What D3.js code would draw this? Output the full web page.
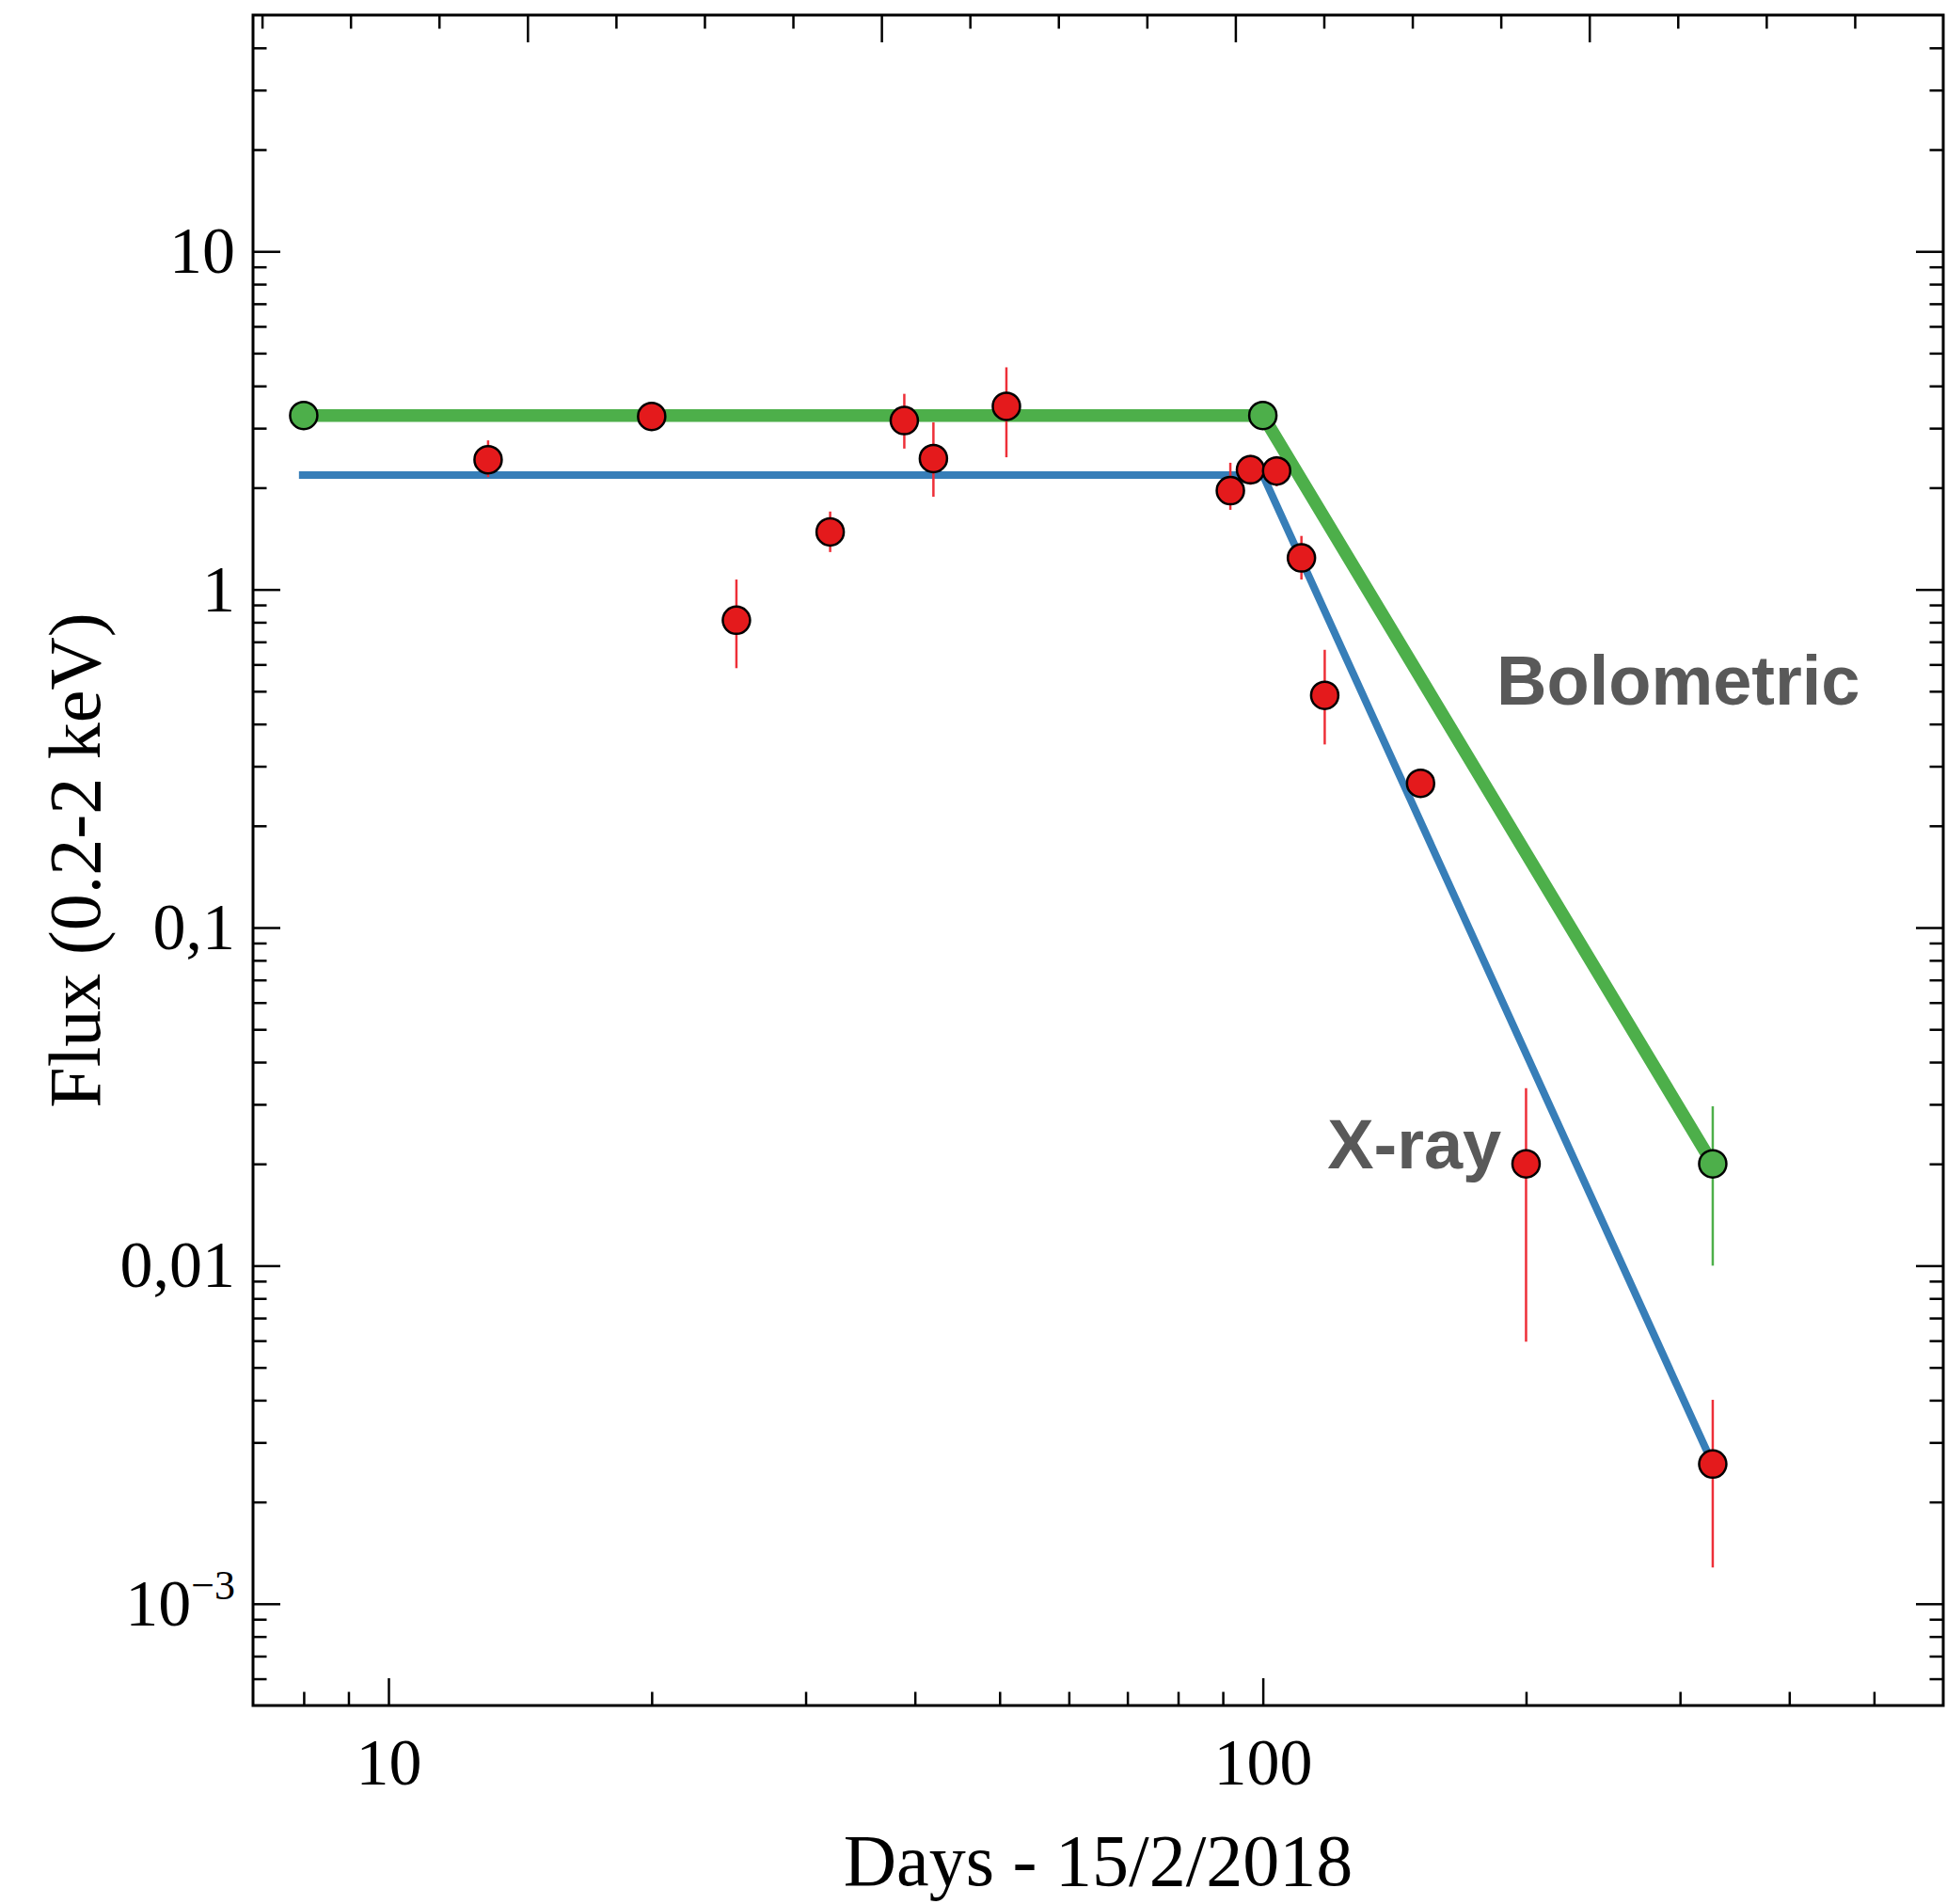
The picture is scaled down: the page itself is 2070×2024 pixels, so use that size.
<!DOCTYPE html>
<html>
<head>
<meta charset="utf-8">
<script src="https://cdn.jsdelivr.net/npm/d3@7"></script>
<style>
  html, body { margin: 0; padding: 0; background: #fff; }
</style>
</head>
<body>
<div id="chart"></div>
<script>
const [black, green, blue, red, errRed, gray] =
      ["#000000", "#4daf4a", "#377eb8", "#e41a1c", "#ee2f38", "#595959"];

// x-ray points (days, flux, upper, lower)
const xrayDays = [13, 20, 25, 32, 38.9, 42, 50.9, 91.8, 96.8, 103.7, 110.7, 117.7, 151.5, 200, 327];
const xrayFlux = [2.42, 3.25, 0.811, 1.48, 3.16, 2.44, 3.48, 1.96, 2.26, 2.24, 1.24, 0.486, 0.267, 0.020, 0.00259];
const xrayHi   = [2.76, 3.40, 1.07, 1.70, 3.79, 3.12, 4.54, 2.37, 2.50, 2.48, 1.44, 0.663, 0.285, 0.0335, 0.00401];
const xrayLo   = [2.15, 3.10, 0.585, 1.29, 2.61, 1.88, 2.46, 1.72, 2.04, 2.02, 1.07, 0.348, 0.250, 0.00596, 0.00128];

// bolometric points
const bolDays = [8, 100, 327];
const bolFlux = [3.27, 3.27, 0.020];
const bolHi   = [3.27, 3.27, 0.0296];
const bolLo   = [3.27, 3.27, 0.0100];

// broken power-law models
const bolModelDays  = [8, 100, 327];
const bolModelFlux  = [3.27, 3.27, 0.020];
const xrayModelDays = [7.9, 100, 327];
const xrayModelFlux = [2.18, 2.18, 0.00259];

const xMajor = [10, 100];
const xMajorLabels = ["10", "100"];
const yMajor = [10, 1, 0.1, 0.01, 0.001];
const yMajorLabels = ["10", "1", "0,1", "0,01", "10^\u22123"];

const labels = [
  {text: "Bolometric", days: 185, flux: 0.456},
  {text: "X-ray",      days: 118.5, flux: 0.01936}
];

const W = 2070, H = 2024;
const pLeft = 269, pRight = 2066, pTop = 16, pBottom = 1813;
const majorLen = 29, minorLen = 14.5;
const serif = "'Liberation Serif', 'Times New Roman', serif";
const sans = "'Liberation Sans', Arial, sans-serif";

const x = d3.scaleLog().domain([7, 600]).range([pLeft, pRight]);
const y = d3.scaleLog().domain([5e-4, 50]).range([pBottom, pTop]);
// plain linear scale along the top edge (unlabelled)
const xTop = d3.scaleLinear().domain([-4.7755, 0]).range([pLeft, pRight]);

function logMinors(lo, hi) {
  const out = [];
  for (let e = Math.floor(Math.log10(lo)); e <= Math.ceil(Math.log10(hi)); e++)
    for (let m = 2; m <= 9; m++) out.push(+(m * Math.pow(10, e)).toPrecision(6));
  return out.filter(v => v > lo && v < hi);
}

const svg = d3.select("#chart")
            .append("svg")
            .attr("width", W)
            .attr("height", H);

const tickStyle = g => {
  g.select(".domain").remove();
  g.selectAll("line").attr("stroke", black).attr("stroke-width", 2.5);
  g.selectAll("text").attr("font-family", serif).attr("font-size", 70).attr("fill", black);
}

// bottom
svg.append("g").attr("transform", `translate(0,${pBottom})`)
  .call(d3.axisBottom(x).tickValues(logMinors(7, 600)).tickSize(-minorLen).tickFormat(""))
  .call(tickStyle);
svg.append("g").attr("transform", `translate(0,${pBottom})`)
  .call(d3.axisBottom(x).tickValues(xMajor).tickSize(-majorLen).tickPadding(34)
        .tickFormat((d, i) => xMajorLabels[i]))
  .call(tickStyle);

// top
const topTicks = d3.range(-4.75, 0.001, 0.25);
svg.append("g").attr("transform", `translate(0,${pTop})`)
  .call(d3.axisTop(xTop).tickValues(topTicks.filter(v => v % 1 !== 0)).tickSize(-minorLen).tickFormat(""))
  .call(tickStyle);
svg.append("g").attr("transform", `translate(0,${pTop})`)
  .call(d3.axisTop(xTop).tickValues(topTicks.filter(v => v % 1 === 0 && v < 0)).tickSize(-majorLen).tickFormat(""))
  .call(tickStyle);

// left
svg.append("g").attr("transform", `translate(${pLeft},0)`)
  .call(d3.axisLeft(y).tickValues(logMinors(5e-4, 50)).tickSize(-minorLen).tickFormat(""))
  .call(tickStyle);
const yLab = svg.append("g").attr("transform", `translate(${pLeft},0)`)
  .call(d3.axisLeft(y).tickValues(yMajor).tickSize(-majorLen).tickPadding(19).tickFormat(""))
  .call(tickStyle);
yLab.selectAll(".tick text").each(function(d, i) {
  const t = d3.select(this);
  const [base, sup] = yMajorLabels[i].split("^");
  t.append("tspan").text(base);
  if (sup) {
    t.append("tspan").attr("font-size", 44).attr("dy", -28).text(sup);
  }
});

// right
svg.append("g").attr("transform", `translate(${pRight},0)`)
  .call(d3.axisRight(y).tickValues(logMinors(5e-4, 50)).tickSize(-minorLen).tickFormat(""))
  .call(tickStyle);
svg.append("g").attr("transform", `translate(${pRight},0)`)
  .call(d3.axisRight(y).tickValues(yMajor).tickSize(-majorLen).tickFormat(""))
  .call(tickStyle);

// frame
svg.append("rect")
  .attr("x", pLeft).attr("y", pTop)
  .attr("width", pRight - pLeft).attr("height", pBottom - pTop)
  .attr("fill", "none").attr("stroke", black).attr("stroke-width", 3);

// models
const line = d3.line().x(d => x(d[0])).y(d => y(d[1]));
svg.append("path")
  .datum(d3.zip(xrayModelDays, xrayModelFlux))
  .attr("d", line)
  .attr("fill", "none").attr("stroke", blue).attr("stroke-width", 8);
svg.append("path")
  .datum(d3.zip(bolModelDays, bolModelFlux))
  .attr("d", line)
  .attr("fill", "none").attr("stroke", green).attr("stroke-width", 13.5);

// error bars
const xrayPts = xrayDays.map((d, i) => ({d: d, f: xrayFlux[i], hi: xrayHi[i], lo: xrayLo[i]}));
const bolPts = bolDays.map((d, i) => ({d: d, f: bolFlux[i], hi: bolHi[i], lo: bolLo[i]}));

svg.selectAll(".err-bol")
  .data(bolPts.filter(p => p.hi !== p.lo))
  .enter().append("line")
  .attr("class", "err-bol")
  .attr("x1", p => x(p.d)).attr("x2", p => x(p.d))
  .attr("y1", p => y(p.hi)).attr("y2", p => y(p.lo))
  .attr("stroke", green).attr("stroke-width", 2.5);

svg.selectAll(".err-x")
  .data(xrayPts)
  .enter().append("line")
  .attr("class", "err-x")
  .attr("x1", p => x(p.d)).attr("x2", p => x(p.d))
  .attr("y1", p => y(p.hi)).attr("y2", p => y(p.lo))
  .attr("stroke", errRed).attr("stroke-width", 2.5);

// markers
svg.selectAll(".dot-bol")
  .data(bolPts)
  .enter().append("circle")
  .attr("class", "dot-bol")
  .attr("cx", p => x(p.d)).attr("cy", p => y(p.f))
  .attr("r", 14.5)
  .attr("fill", green).attr("stroke", black).attr("stroke-width", 2.5);

svg.selectAll(".dot-x")
  .data(xrayPts)
  .enter().append("circle")
  .attr("class", "dot-x")
  .attr("cx", p => x(p.d)).attr("cy", p => y(p.f))
  .attr("r", 14.5)
  .attr("fill", red).attr("stroke", black).attr("stroke-width", 2.5);

// annotations
svg.selectAll(".note")
  .data(labels)
  .enter().append("text")
  .attr("class", "note")
  .attr("x", l => x(l.days)).attr("y", l => y(l.flux))
  .attr("font-family", sans).attr("font-weight", "bold")
  .attr("font-size", 74).attr("fill", gray)
  .text(l => l.text);

// axis titles
svg.append("text")
  .attr("x", (pLeft + pRight) / 2).attr("y", 2004)
  .attr("text-anchor", "middle")
  .attr("font-family", serif).attr("font-size", 78)
  .text("Days - 15/2/2018");

svg.append("text")
  .attr("transform", `translate(106,${(pTop + pBottom) / 2}) rotate(-90)`)
  .attr("text-anchor", "middle")
  .attr("font-family", serif).attr("font-size", 78)
  .text("Flux (0.2-2 keV)");
</script>
</body>
</html>
